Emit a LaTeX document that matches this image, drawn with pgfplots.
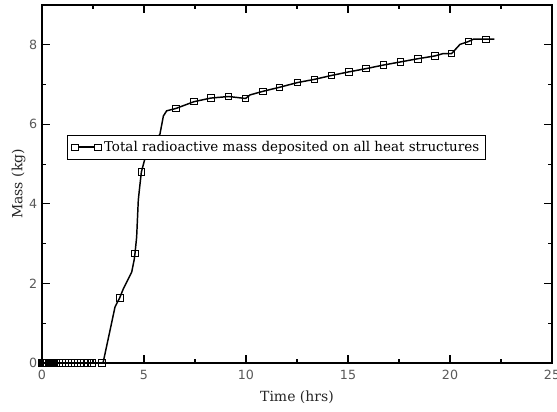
\documentclass[border=0pt]{standalone}
\usepackage{fontspec}
\setmainfont{DejaVu Serif}
\newfontfamily\tickfont{DejaVu Sans}
\usepackage{pgfplots}
\pgfplotsset{compat=1.18}
\usepackage{pgfplotstable}
\pgfplotstableread{
x y
0 0
2.94 0
3.0 0.02
3.58 1.41
3.81 1.64
3.99 1.87
4.40 2.29
4.52 2.60
4.56 2.76
4.64 3.17
4.72 4.09
4.77 4.34
4.87 4.80
5.13 5.30
5.78 5.75
5.95 6.21
6.11 6.34
6.57 6.40
7.45 6.57
8.27 6.66
9.15 6.70
9.98 6.65
10.2 6.74
10.83 6.83
11.63 6.93
12.52 7.05
13.35 7.13
14.2 7.23
15.05 7.32
15.88 7.40
16.73 7.49
17.58 7.57
18.43 7.65
19.26 7.72
19.67 7.78
20.08 7.78
20.49 8.01
20.9 8.08
21.14 8.14
21.75 8.14
22.17 8.14
}\curve
\pgfplotstableread{
x y
0 0
0.05 0
0.1 0
0.15 0
0.2 0
0.25 0
0.3 0
0.35 0
0.4 0
0.45 0
0.5 0
0.55 0
0.6 0
0.7 0
0.85 0
1.0 0
1.15 0
1.3 0
1.45 0
1.6 0
1.75 0
1.9 0
2.05 0
2.2 0
2.45 0
2.94 0
3.81 1.64
4.56 2.76
4.87 4.80
6.57 6.40
7.45 6.57
8.27 6.66
9.15 6.70
9.98 6.65
10.83 6.83
11.63 6.93
12.52 7.05
13.35 7.13
14.2 7.23
15.05 7.32
15.88 7.40
16.73 7.49
17.58 7.57
18.43 7.65
19.26 7.72
20.08 7.78
20.9 8.08
21.75 8.14
}\marks
\begin{document}
\begin{tikzpicture}
\begin{axis}[
  scale only axis,
  width=382.5pt, height=268.5pt,
  xmin=0, xmax=25, ymin=0, ymax=9,
  xtick={0,5,10,15,20,25},
  ytick={0,2,4,6,8},
  minor xtick={2.5,7.5,12.5,17.5,22.5},
  minor ytick={1,3,5,7},
  tick align=inside,
  major tick length=6pt,
  minor tick length=3pt,
  tick style={black, line width=0.8pt},
  axis line style={line width=1.1pt},
  xlabel={Time (hrs)},
  ylabel={Mass (kg)},
  label style={font=\fontsize{10.5}{12}\selectfont, text=black!85},
  xlabel style={yshift=-1pt},
  ylabel style={yshift=-4pt},
  tick label style={font=\tickfont\fontsize{9.5}{10}\selectfont, text=black!65},
  xticklabel style={yshift=-2pt},
  /pgf/number format/assume math mode=true,
  legend style={at={(0.46,0.603)}, anchor=center, draw=black, line width=0.6pt,
    font=\fontsize{10.1}{12}\selectfont, inner xsep=3pt, inner ysep=2.5pt},
  legend cell align=left,
]
\addplot[black, line width=1.1pt, forget plot] table[x=x,y=y] {\curve};
\addplot[only marks, mark=square, mark size=2.4pt, black, mark options={line width=0.6pt}, forget plot] table[x=x,y=y] {\marks};
\addlegendimage{legend image code/.code={
  \draw[black, line width=1.1pt] (0cm,0cm) -- (0.6cm,0cm);
  \draw[black, line width=0.6pt, fill=white] (-0.085cm,-0.085cm) rectangle (0.085cm,0.085cm);
  \draw[black, line width=0.6pt, fill=white] (0.515cm,-0.085cm) rectangle (0.685cm,0.085cm);
}}
\addlegendentry{Total radioactive mass deposited on all heat structures}
\end{axis}
\pgfresetboundingbox
\path (-31.5pt,-36pt) rectangle (386.25pt,272.25pt);
\end{tikzpicture}
\end{document}
